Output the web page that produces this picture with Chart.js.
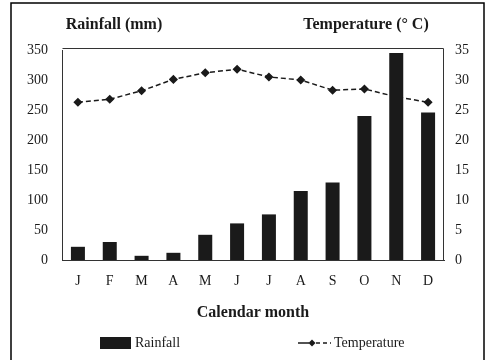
<!DOCTYPE html>
<html>
<head>
<meta charset="utf-8">
<script src="https://cdn.jsdelivr.net/npm/chart.js@4/dist/chart.umd.min.js"></script>
<style>
  html, body { margin: 0; padding: 0; background: #fff; }
  #wrap { width: 486px; height: 360px; }
</style>
</head>
<body>
<div id="wrap"><canvas id="climateChart" width="486" height="360"></canvas></div>
<script>
// data
const months = ['J', 'F', 'M', 'A', 'M', 'J', 'J', 'A', 'S', 'O', 'N', 'D'];
const rainfall = [22, 30, 7, 12, 42, 61, 76, 115, 129, 240, 345, 246];
const temperature = [26.3, 26.8, 28.2, 30.1, 31.2, 31.8, 30.5, 30.0, 28.3, 28.5, 27.2, 26.3];
const rainTicks = [0, 50, 100, 150, 200, 250, 300, 350];
const tempTicks = [0, 5, 10, 15, 20, 25, 30, 35];

const SERIF = '"Liberation Serif", "Times New Roman", serif';
const INK = '#1a1a1a';

// titles, frame and legend drawn on top of the chart
const decorations = {
    id: 'decorations',
    afterDraw(chart) {
        const ctx = chart.ctx;
        const area = chart.chartArea;
        ctx.save();

        // outer frame
        ctx.strokeStyle = '#000';
        ctx.lineWidth = 1.5;
        ctx.strokeRect(11, 3, 473, 362);

        // plot frame
        ctx.lineWidth = 1;
        ctx.strokeStyle = '#333';
        ctx.beginPath();
        ctx.moveTo(area.left + 0.5, area.top - 1.5);
        ctx.lineTo(area.right - 0.5, area.top - 1.5);
        ctx.lineTo(area.right - 0.5, area.bottom);
        ctx.stroke();

        // axis titles
        ctx.fillStyle = INK;
        ctx.textAlign = 'center';
        ctx.textBaseline = 'middle';
        ctx.font = 'bold 16px ' + SERIF;
        ctx.fillText('Rainfall (mm)', 114, 25);
        ctx.fillText('Temperature (° C)', 366, 25);
        ctx.fillText('Calendar month', (area.left + area.right) / 2, 313);

        // legend
        const ly = 343;
        ctx.fillRect(100, ly - 6, 31, 12);
        ctx.font = '14px ' + SERIF;
        ctx.textAlign = 'left';
        ctx.fillText('Rainfall', 135, ly);

        ctx.strokeStyle = INK;
        ctx.lineWidth = 1.5;
        ctx.beginPath();
        ctx.moveTo(298, ly);
        ctx.lineTo(309, ly);
        ctx.stroke();
        ctx.setLineDash([4, 3]);
        ctx.beginPath();
        ctx.moveTo(316, ly);
        ctx.lineTo(331, ly);
        ctx.stroke();
        ctx.setLineDash([]);
        ctx.beginPath();
        ctx.moveTo(312, ly - 3.5);
        ctx.lineTo(315.5, ly);
        ctx.lineTo(312, ly + 3.5);
        ctx.lineTo(308.5, ly);
        ctx.closePath();
        ctx.fill();
        ctx.fillText('Temperature', 334, ly);

        ctx.restore();
    }
};

const ctx = document.getElementById('climateChart');
new Chart(ctx, {
    type: 'bar',
    data: {
        labels: months,
        datasets: [{
            type: 'bar',
            label: 'Rainfall',
            data: rainfall,
            yAxisID: 'y',
            backgroundColor: INK,
            categoryPercentage: 1,
            barPercentage: 0.44,
            order: 0
        }, {
            type: 'line',
            label: 'Temperature',
            data: temperature,
            yAxisID: 'y1',
            borderColor: INK,
            borderWidth: 1.5,
            borderDash: [5, 3],
            pointStyle: 'rectRot',
            pointRadius: 3.5,
            pointBackgroundColor: INK,
            pointBorderColor: INK,
            tension: 0,
            order: 1
        }]
    },
    options: {
        responsive: false,
        animation: false,
        layout: { padding: { top: 50, left: 0, right: 0, bottom: 0 } },
        plugins: {
            legend: { display: false },
            tooltip: { enabled: false }
        },
        scales: {
            x: {
                offset: true,
                grid: { display: false, drawTicks: false },
                border: { display: true, color: '#333', width: 1 },
                ticks: { color: INK, padding: 13, font: { family: SERIF, size: 14 } },
                afterFit(scale) { scale.height = 100; }
            },
            y: {
                position: 'left',
                min: 0,
                max: 350,
                afterBuildTicks(scale) { scale.ticks = rainTicks.map(v => ({ value: v })); },
                grid: { display: false, drawTicks: false },
                border: { display: true, color: '#333', width: 1 },
                ticks: { color: INK, padding: 14, font: { family: SERIF, size: 14 } },
                afterFit(scale) { scale.width = 62; }
            },
            y1: {
                position: 'right',
                min: 0,
                max: 35,
                afterBuildTicks(scale) { scale.ticks = tempTicks.map(v => ({ value: v })); },
                grid: { display: false, drawTicks: false },
                border: { display: false },
                ticks: { color: INK, padding: 11, font: { family: SERIF, size: 14 } },
                afterFit(scale) { scale.width = 42; }
            }
        }
    },
    plugins: [decorations]
});
</script>
</body>
</html>
